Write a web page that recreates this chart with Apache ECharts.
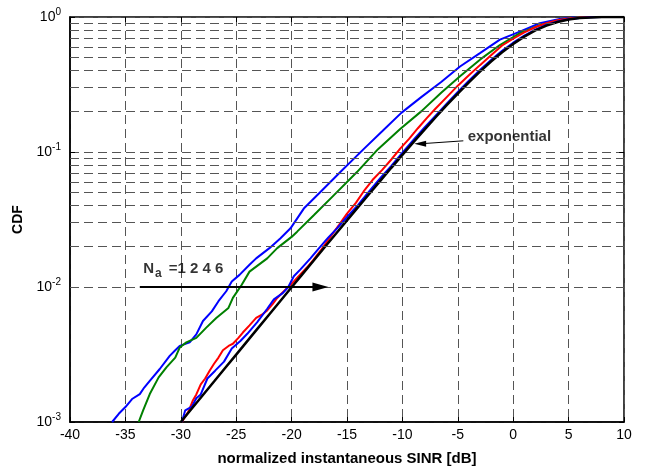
<!DOCTYPE html>
<html><head><meta charset="utf-8">
<script src="https://cdn.jsdelivr.net/npm/echarts@6/dist/echarts.min.js"></script>
<style>html,body{margin:0;padding:0;background:#fff}#c{width:664px;height:471px}</style>
</head><body><div id="c"></div>
<script>
// ---- data ----
const xMin = -40, xMax = 10, xStep = 5;
const yMin = 0.001, yMax = 1;
const yTickExponents = ['-3', '-2', '-1', '0'];
const minorGridY = [0.002,0.003,0.004,0.005,0.006,0.007,0.008,0.009,
                    0.02,0.03,0.04,0.05,0.06,0.07,0.08,0.09,
                    0.2,0.3,0.4,0.5,0.6,0.7,0.8,0.9];

// N_a = 1 (blue, leftmost)
const na1X = [-36.2,-35.6,-35.0,-34.4,-33.7,-33.3,-32.8,-31.9,-31.0,-30.5,-30.1,-29.2,-28.6,-28.0,-27.2,-26.6,-25.9,-25.4,-24.7,-23.8,-23.2,-22.0,-21.0,-20.1,-18.9,-17.4,-15.6,-13.5,-11.8,-10.1,-8.3,-6.5,-4.8,-3.0,-1.2,0.6,2.4,4.2,5.4,6.5,10];
const na1Y = [0.001,0.00115,0.00129,0.00148,0.00161,0.0018,0.00202,0.00247,0.00309,0.0034,0.00366,0.00389,0.00446,0.0056,0.0066,0.00785,0.0093,0.0110,0.0123,0.0146,0.0163,0.0194,0.023,0.0272,0.0381,0.0506,0.071,0.105,0.143,0.195,0.255,0.33,0.43,0.54,0.68,0.78,0.90,0.967,0.99,1.0,1.0];

// N_a = 2 (green)
const na2X = [-33.8,-33.4,-32.8,-32.0,-31.3,-30.5,-30.1,-29.5,-28.6,-27.7,-26.8,-25.7,-25.3,-24.5,-23.8,-22.2,-21.3,-20.0,-19.5,-18.0,-16.2,-14.1,-12.2,-10.2,-8.3,-6.5,-4.8,-3.0,-1.2,0.6,2.4,4.2,5.7,6.8,10];
const na2Y = [0.001,0.00122,0.00161,0.00214,0.00254,0.0030,0.00356,0.00389,0.0042,0.0050,0.0059,0.0070,0.0083,0.0104,0.0130,0.0163,0.0194,0.0235,0.0257,0.034,0.0477,0.071,0.105,0.148,0.20,0.275,0.364,0.483,0.62,0.76,0.87,0.95,0.99,1.0,1.0];

// N_a = 4 (red)
const na4X = [-29.9,-29.3,-28.9,-28.6,-28.2,-27.8,-27.4,-27.0,-26.6,-26.2,-25.6,-25.3,-24.8,-24.4,-23.8,-23.2,-22.6,-22.2,-21.7,-21.3,-20.7,-20.3,-19.8,-19.3,-18.6,-18.0,-17.3,-16.5,-15.7,-15.0,-14.2,-13.5,-12.7,-11.8,-11.0,-10.2,-9.4,-8.6,-7.8,-7.0,-6.0,-5.0,-4.0,-3.0,-2.0,-1.0,0,1,2,3,4,5,6,7,8,10];
const na4Y = [0.001,0.0012,0.00145,0.0016,0.0019,0.0021,0.0024,0.0027,0.0030,0.0034,0.0037,0.0038,0.0042,0.0046,0.0052,0.0059,0.0063,0.0067,0.0075,0.0083,0.0093,0.0100,0.0110,0.0122,0.0140,0.0160,0.0190,0.0235,0.029,0.035,0.042,0.051,0.062,0.074,0.088,0.106,0.125,0.150,0.178,0.210,0.255,0.310,0.370,0.440,0.520,0.615,0.69,0.77,0.84,0.90,0.945,0.975,0.991,0.998,1.0,1.0];

// N_a = 6 (blue, next to exponential)
const na6X = [-29.9,-29.6,-29.0,-28.6,-28.2,-27.6,-26.9,-26.1,-25.4,-24.6,-24.0,-23.1,-22.2,-21.6,-20.8,-20.3,-19.8,-19.2,-18.3,-17.5,-16.7,-15.9,-15.0,-14.0,-13.0,-12.0,-11.0,-10.0,-9.0,-8.0,-7.0,-6.0,-5.0,-4.0,-3.0,-2.0,-1.0,0,1,2,3,4,5,6,7,8,10];
const na6Y = [0.001,0.00122,0.0013,0.0015,0.0016,0.0021,0.0024,0.0028,0.0035,0.0040,0.0045,0.0055,0.0069,0.0081,0.0090,0.0100,0.0120,0.0135,0.0163,0.0195,0.0232,0.0272,0.0330,0.0405,0.051,0.064,0.079,0.099,0.123,0.152,0.186,0.228,0.278,0.337,0.405,0.480,0.562,0.645,0.728,0.805,0.872,0.925,0.962,0.985,0.996,1.0,1.0];

// exponential (black)
const expX = [-30,-29,-28,-27,-26,-25,-24,-23,-22,-21,-20,-19,-18,-17,-16,-15,-14,-13,-12,-11,-10,-9,-8,-7,-6,-5,-4,-3,-2,-1,0,1,2,3,4,5,6,7,8,9,10];
const expY = [0.0010,0.001258,0.001584,0.001993,0.002509,0.003157,0.003973,0.004999,0.00629,0.007912,0.00995,0.01251,0.01572,0.01976,0.02481,0.03113,0.03903,0.04888,0.06115,0.07636,0.09516,0.1183,0.1466,0.1809,0.2221,0.2711,0.3284,0.3942,0.4679,0.5481,0.6321,0.7160,0.7951,0.8640,0.9189,0.9577,0.9813,0.9933,0.9982,0.99965,0.99995];

// annotations (data coordinates)
const naArrow = [[-33.7, 0.01], [-17.4, 0.01]];
const naLabelPos = [-33.4, 0.0136];
const expArrow = [[-4.5, 0.121], [-8.4, 0.115]];
const expLabelPos = [-4.1, 0.129];

const zip = (xs, ys) => xs.map((x, i) => [x, ys[i]]);
const FONT = '"Liberation Sans", Arial, Helvetica, sans-serif';
const gridDash = { color: '#555', width: 1, type: [9, 5] };

function curve(name, xs, ys, color, width, z) {
  return { name, type: 'line', data: zip(xs, ys), showSymbol: false, symbol: 'none',
           lineStyle: { color, width }, z, silent: true, animation: false };
}

const chart = echarts.init(document.getElementById('c'), null, { renderer: 'canvas' });
chart.setOption({
  animation: false,
  backgroundColor: '#fff',
  grid: { left: 70, right: 40, top: 17, bottom: 46, show: true, borderColor: '#000', borderWidth: 1.5, backgroundColor: 'transparent' },
  xAxis: [{
    type: 'value', min: xMin, max: xMax, interval: xStep,
    name: 'normalized instantaneous SINR [dB]', nameLocation: 'middle', nameGap: 29,
    nameTextStyle: { fontFamily: FONT, fontWeight: 'bold', fontSize: 15, color: '#000' },
    axisLine: { show: true, onZero: false, lineStyle: { color: '#000', width: 1.5 } },
    axisTick: { show: true, inside: true, length: 5, lineStyle: { color: '#000' } },
    axisLabel: { fontFamily: FONT, fontSize: 14, color: '#000', margin: 6 },
    splitLine: { show: true, lineStyle: gridDash }
  }, {
    type: 'value', min: xMin, max: xMax, interval: xStep, position: 'top',
    axisLine: { show: false, onZero: false }, axisTick: { show: true, inside: true, length: 5, lineStyle: { color: '#000' } },
    axisLabel: { show: false }, splitLine: { show: false }
  }],
  yAxis: [{
    type: 'log', logBase: 10, min: yMin, max: yMax,
    name: 'CDF', nameLocation: 'middle', nameGap: 37, nameRotate: 90,
    nameTextStyle: { fontFamily: FONT, fontWeight: 'bold', fontSize: 14, color: '#000' },
    axisLine: { show: true, onZero: false, lineStyle: { color: '#000', width: 1.5 } },
    axisTick: { show: true, inside: true, length: 5, lineStyle: { color: '#000' } },
    axisLabel: {
      margin: 9,
      formatter: v => {
        const e = Math.round(Math.log10(v));
        const lbl = yTickExponents.find(s => +s === e);
        return '{b|10}{s|' + (lbl !== undefined ? lbl : e) + '}';
      },
      rich: {
        b: { fontFamily: FONT, fontSize: 14, color: '#000' },
        s: { fontFamily: FONT, fontSize: 10, color: '#000', padding: [0, 0, 9, 0] }
      }
    },
    splitLine: { show: true, lineStyle: gridDash }
  }, {
    type: 'log', logBase: 10, min: yMin, max: yMax, position: 'right',
    axisLine: { show: false, onZero: false }, axisTick: { show: true, inside: true, length: 5, lineStyle: { color: '#000' } },
    axisLabel: { show: false }, splitLine: { show: false }
  }],
  series: [
    { type: 'line', data: [], z: 1, silent: true,
      markLine: { silent: true, symbol: 'none', label: { show: false }, animation: false,
        lineStyle: gridDash, data: minorGridY.map(v => ({ yAxis: v })) } },
    curve('Na=1', na1X, na1Y, '#0000ff', 2, 3),
    curve('Na=2', na2X, na2Y, '#008000', 2, 3),
    curve('Na=4', na4X, na4Y, '#ff0000', 2, 3),
    curve('Na=6', na6X, na6Y, '#0000ff', 2, 3),
    curve('exponential', expX, expY, '#000000', 2.5, 4),
    { type: 'line', data: [], z: 5, silent: true,
      markLine: { silent: true, animation: false, label: { show: false },
        data: [
          [{ coord: naArrow[0], symbol: 'none' }, { coord: naArrow[1], symbol: 'triangle', symbolSize: [9, 16], symbolRotate: -90 }],
          [{ coord: expArrow[0], symbol: 'none', lineStyle: { width: 1 } }, { coord: expArrow[1], symbol: 'triangle', symbolSize: [6, 12], symbolRotate: 90, lineStyle: { width: 1 } }]
        ],
        lineStyle: { color: '#000', width: 2, type: 'solid' }, itemStyle: { color: '#000' } } },
    { type: 'scatter', symbolSize: 0, z: 6, silent: true,
      data: [
        { value: naLabelPos, label: { show: true, position: 'right', distance: 0,
            formatter: '{n|N}{sub|a}{n| =1 2 4 6}',
            rich: { n: { fontFamily: FONT, fontWeight: 'bold', fontSize: 15, color: '#000' },
                    sub: { fontFamily: FONT, fontWeight: 'bold', fontSize: 12, color: '#000', padding: [9, 3, 0, 1] } } } },
        { value: expLabelPos, label: { show: true, position: 'right', distance: 0,
            formatter: 'exponential', fontFamily: FONT, fontWeight: 'bold', fontSize: 15, color: '#000' } }
      ] }
  ]
});
</script></body></html>
